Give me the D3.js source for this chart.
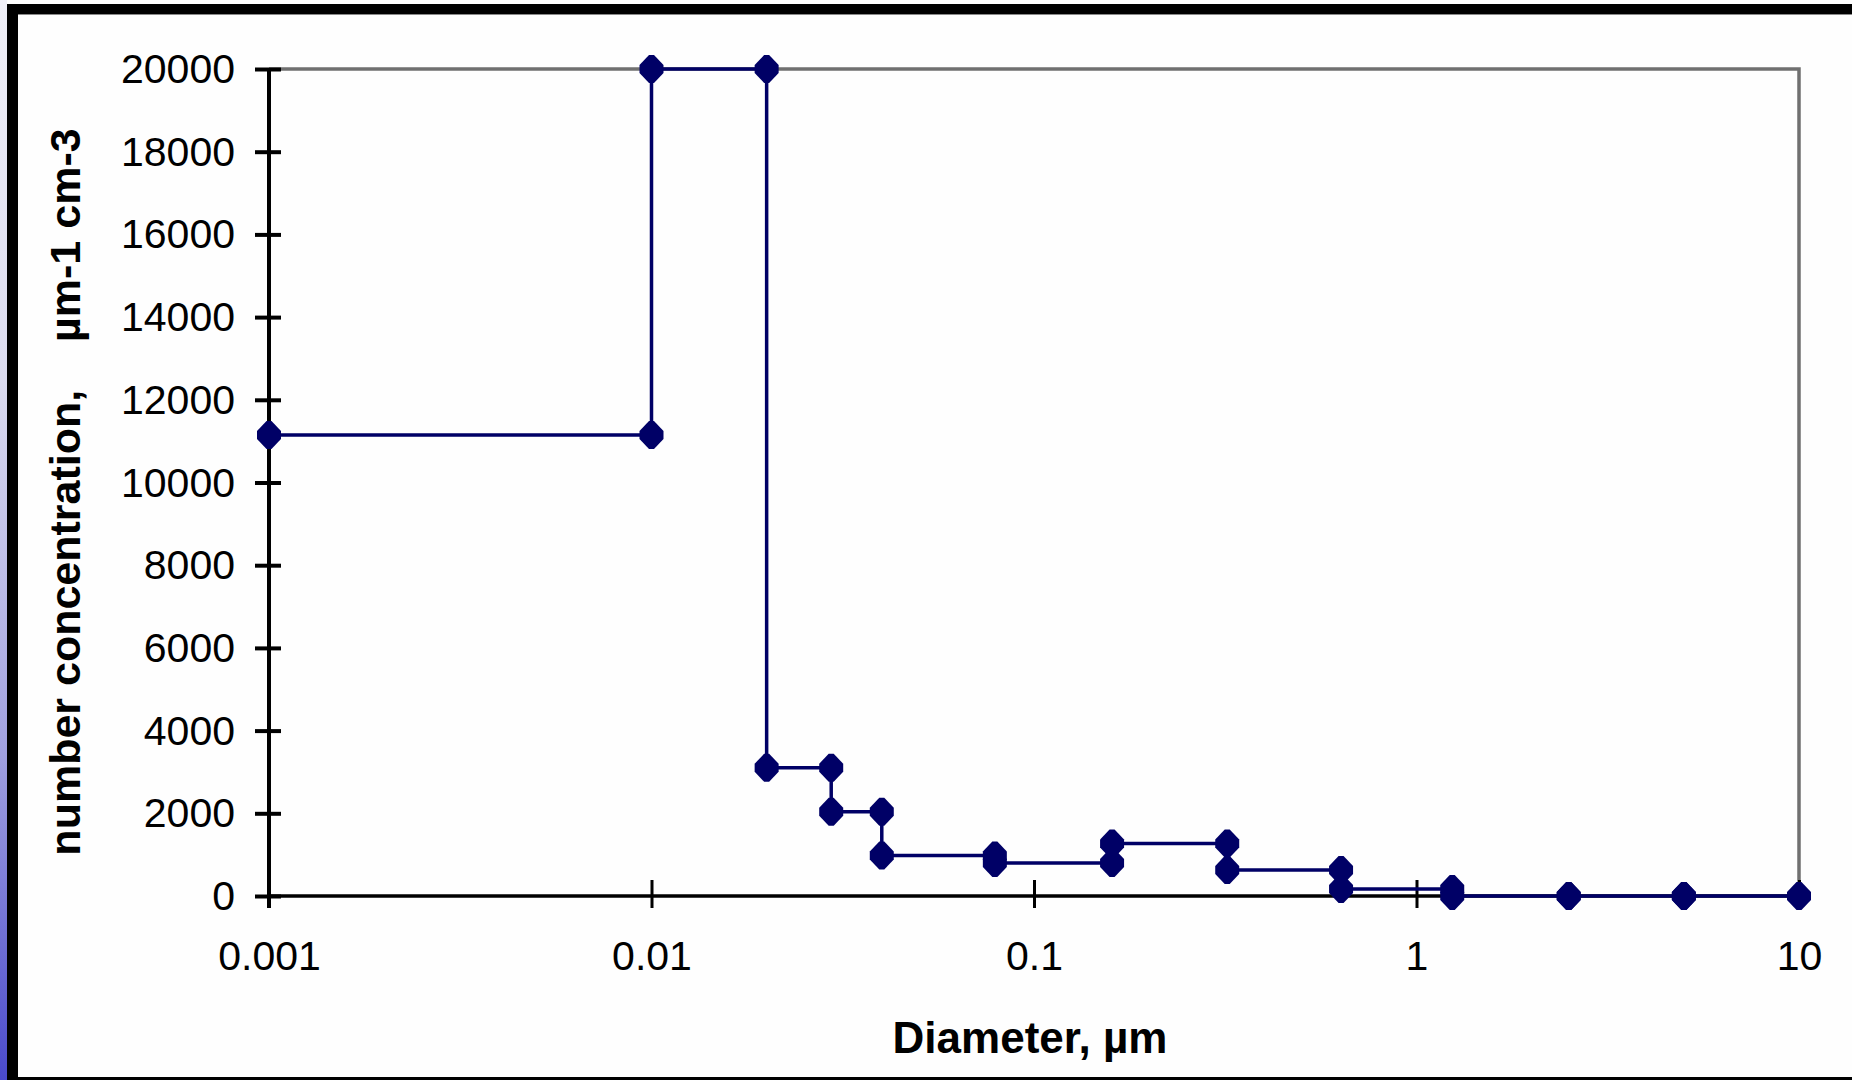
<!DOCTYPE html>
<html>
<head>
<meta charset="utf-8">
<script src="https://cdn.jsdelivr.net/npm/d3@7"></script>
<style>
  html, body { margin: 0; padding: 0; background: #fff; }
  svg { display: block; }
  text { font-family: "Liberation Sans", Arial, sans-serif; fill: #000; }
</style>
</head>
<body>
<svg id="chart" width="1852" height="1080"></svg>
<script>
// ---- data ----
const diameters = [0.001, 0.01, 0.01, 0.02, 0.02, 0.0295, 0.0295, 0.04, 0.04, 0.079, 0.079, 0.16, 0.16, 0.32, 0.32, 0.635, 0.635, 1.24, 1.24, 2.5, 2.5, 5, 5, 10];
const concentrations = [11150, 11150, 20000, 20000, 3100, 3100, 2040, 2040, 980, 980, 800, 800, 1270, 1270, 630, 630, 170, 170, 0, 0, 0, 0, 0, 0];
const xTicks = [0.001, 0.01, 0.1, 1, 10];
const xTickLabels = ["0.001", "0.01", "0.1", "1", "10"];
const yTicks = [0, 2000, 4000, 6000, 8000, 10000, 12000, 14000, 16000, 18000, 20000];
const xTitle = "Diameter, \u00b5m";
const yTitle = "number concentration,    \u00b5m-1 cm-3";

const svg = d3.select("#chart");
const W = 1852, H = 1080;

// ---- frame / background ----
const defs = svg.append("defs");
const grad = defs.append("linearGradient").attr("id", "leftGrad")
  .attr("x1", 0).attr("y1", 0).attr("x2", 0).attr("y2", 1);
grad.append("stop").attr("offset", "0%").attr("stop-color", "#f0f0f8");
grad.append("stop").attr("offset", "35%").attr("stop-color", "#dcdcf0");
grad.append("stop").attr("offset", "70%").attr("stop-color", "#a0a0e0");
grad.append("stop").attr("offset", "100%").attr("stop-color", "#4a4acc");

svg.append("rect").attr("x", 0).attr("y", 0).attr("width", W).attr("height", H).attr("fill", "#fefefe");
svg.append("rect").attr("x", 0).attr("y", 0).attr("width", 7).attr("height", H).attr("fill", "url(#leftGrad)");
svg.append("rect").attr("x", 7).attr("y", 4).attr("width", W - 7).attr("height", 10).attr("fill", "#000");
svg.append("rect").attr("x", 7).attr("y", 14).attr("width", W - 7).attr("height", 1).attr("fill", "#8a8a8a");
svg.append("rect").attr("x", 7).attr("y", 4).attr("width", 11).attr("height", H - 4).attr("fill", "#000");
svg.append("rect").attr("x", 7).attr("y", 1077).attr("width", W - 7).attr("height", 3).attr("fill", "#000");

// ---- scales ----
const x = d3.scaleLog().domain([0.001, 10]).range([269, 1799]);
const y = d3.scaleLinear().domain([0, 20000]).range([896, 69]);

// plot frame (grey top and right)
svg.append("path")
  .attr("d", `M${x(0.001)},${y(20000)}H${x(10)}V${y(0)}`)
  .attr("fill", "none").attr("stroke", "#707070").attr("stroke-width", 3.5);

// ---- y axis ----
const yAxis = d3.axisLeft(y).tickValues(yTicks).tickFormat(d3.format("d")).tickSize(14).tickPadding(20);
const gy = svg.append("g").attr("transform", `translate(${x(0.001)},0)`).call(yAxis);
gy.select(".domain").remove();
gy.selectAll(".tick line").attr("x1", 12).attr("x2", -14).attr("stroke", "#000").attr("stroke-width", 4);
gy.selectAll(".tick text").attr("font-size", 41).attr("font-family", "'Liberation Sans', Arial, sans-serif")
  .attr("x", -34).attr("dy", "0.33em");
gy.append("line").attr("x1", 0).attr("x2", 0).attr("y1", y(20000)).attr("y2", y(0) + 12)
  .attr("stroke", "#000").attr("stroke-width", 4);

// ---- x axis ----
const xAxis = d3.axisBottom(x).tickValues(xTicks).tickFormat((d, i) => xTickLabels[i]).tickSize(12).tickPadding(40);
const gx = svg.append("g").attr("transform", `translate(0,${y(0)})`).call(xAxis);
gx.select(".domain").remove();
gx.insert("line", ":first-child").attr("x1", x(0.001)).attr("x2", x(10)).attr("y1", 0).attr("y2", 0)
  .attr("stroke", "#000").attr("stroke-width", 3.5);
gx.selectAll(".tick line").attr("y1", -16).attr("y2", 12).attr("stroke", "#000").attr("stroke-width", 3);
gx.selectAll(".tick text").attr("font-size", 41).attr("font-family", "'Liberation Sans', Arial, sans-serif")
  .attr("y", 74).attr("dy", 0);

// ---- series ----
const pts = diameters.map((d, i) => [d, concentrations[i]]);
const line = d3.line().x(d => x(d[0])).y(d => y(d[1]));
svg.append("path").datum(pts).attr("d", line)
  .attr("fill", "none").attr("stroke", "#000066").attr("stroke-width", 3.5);

const diamond = "M-2.5,-14L2.5,-14L12,-4L12,4L2.5,14L-2.5,14L-12,4L-12,-4Z";
svg.append("g").selectAll("path").data(pts).join("path")
  .attr("d", diamond)
  .attr("transform", d => `translate(${x(d[0])},${y(d[1])})`)
  .attr("fill", "#000066");

// ---- titles ----
svg.append("text").attr("x", 1030).attr("y", 1053).attr("text-anchor", "middle")
  .attr("font-size", 44).attr("font-weight", "bold").text(xTitle);
svg.append("text").attr("transform", "translate(80,492) rotate(-90)").attr("text-anchor", "middle")
  .attr("font-size", 43).attr("font-weight", "bold").style("white-space", "pre").text(yTitle);
</script>
</body>
</html>
